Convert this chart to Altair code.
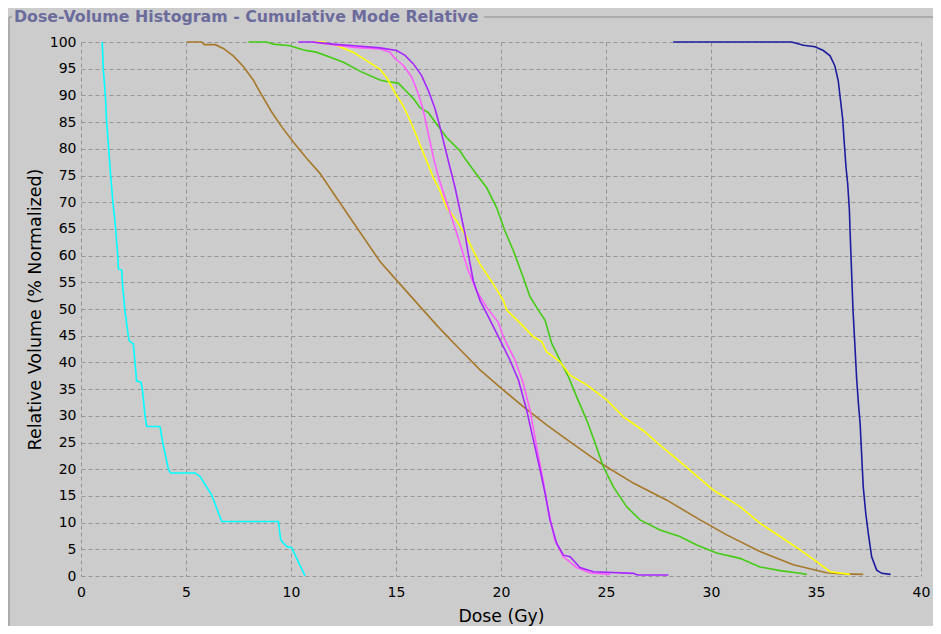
import altair as alt
import pandas as pd

TITLE = "Dose-Volume Histogram - Cumulative Mode Relative"
X_TITLE = "Dose (Gy)"
Y_TITLE = "Relative Volume (% Normalized)"

# ---- curves (dose in Gy, relative volume in %) ----
cyan_dose = [1.01, 1.06, 1.16, 1.22, 1.32, 1.41, 1.52, 1.65, 1.75, 1.78, 1.94, 1.97, 2.08, 2.25, 2.30, 2.49, 2.57,
             2.65, 2.85, 2.92, 3.05, 3.13, 3.76, 3.89, 4.16, 4.27, 5.43, 5.67, 6.22, 6.70, 9.40, 9.50, 9.56, 9.80,
             10.03, 10.67]
cyan_vol = [100, 95, 90, 85, 80, 75, 70, 65, 60, 57.5, 57.3, 55, 50, 45, 44, 43.5, 40,
            36.5, 36.3, 35, 30, 28, 28, 25, 20, 19.3, 19.3, 18.6, 15.2, 10.2, 10.2, 7.0, 6.5, 5.5,
            5.3, 0]

brown_dose = [5.03, 5.75, 5.87, 6.40, 6.78, 7.25, 7.73, 8.20, 8.60, 9.08, 9.56, 10.10, 10.75, 11.38, 11.86, 13.00,
              14.24, 15.00, 16.00, 17.00, 18.00, 19.00, 20.03, 21.06, 22.17, 23.29, 24.71, 26.30, 27.90, 29.48,
              30.75, 32.33, 33.92, 35.50, 36.30, 37.25]
brown_vol = [100, 100, 99.5, 99.5, 98.8, 97.4, 95.4, 92.9, 90.1, 86.9, 84.1, 81.3, 78.2, 75.4, 72.6, 66.0,
             58.9, 55.5, 51.1, 46.7, 42.6, 38.6, 35.1, 31.7, 28.3, 25.1, 21.2, 17.4, 14.2, 10.5,
             7.7, 4.6, 2.1, 0.6, 0.4, 0.3]

green_dose = [7.97, 8.84, 9.16, 9.95, 10.60, 11.20, 11.78, 12.50, 13.30, 14.24, 14.56, 15.11, 15.43, 15.83, 16.14,
              16.54, 16.94, 17.41, 18.05, 18.37, 18.84, 19.32, 19.79, 20.19, 20.59, 21.06, 21.38, 21.78, 22.10,
              22.41, 22.81, 23.21, 23.60, 24.08, 24.48, 24.87, 25.35, 25.98, 26.62, 27.57, 28.52, 29.32, 30.27,
              31.38, 32.33, 33.29, 34.24, 34.56]
green_vol = [100, 100, 99.6, 99.3, 98.5, 98.1, 97.3, 96.2, 94.5, 92.9, 92.6, 92.3, 91.0, 89.4, 87.7,
             86.8, 84.6, 82.1, 79.6, 77.7, 75.2, 72.7, 69.0, 64.6, 60.9, 55.9, 52.3, 49.8, 47.9,
             43.6, 40.4, 37.3, 33.6, 29.2, 24.9, 20.5, 16.7, 13.0, 10.5, 8.6, 7.4, 5.8, 4.3,
             3.3, 1.7, 1.0, 0.5, 0.3]

yellow_dose = [11.00, 11.60, 11.65, 12.10, 13.00, 13.60, 14.24, 14.56, 14.95, 15.35, 15.75, 16.14, 16.46, 16.78,
               17.10, 17.41, 17.89, 18.37, 19.00, 19.63, 20.11, 20.27, 20.90, 21.54, 21.94, 22.17, 22.81, 23.29,
               24.08, 25.03, 25.83, 26.78, 27.57, 28.52, 30.11, 31.38, 32.33, 33.29, 34.24, 35.03, 35.67, 36.62]
yellow_vol = [100, 100, 99.7, 99.5, 98.0, 96.5, 94.9, 93.3, 90.5, 88.0, 84.6, 80.8, 77.7, 74.6,
              72.1, 69.0, 66.5, 63.4, 58.4, 54.7, 51.6, 49.8, 47.4, 44.8, 43.9, 42.0, 40.1, 37.6,
              35.8, 33.0, 29.8, 27.2, 24.5, 21.4, 16.1, 13.0, 9.9, 7.4, 4.9, 2.7, 0.8, 0.3]

pink_dose = [11.00, 12.00, 13.00, 14.24, 14.71, 14.95, 15.35, 15.75, 16.06, 16.30, 16.54, 16.78, 17.02, 17.33,
             17.65, 18.05, 18.44, 18.84, 19.32, 19.87, 20.11, 20.67, 21.06, 21.38, 21.70, 22.00, 22.25, 22.57,
             22.97, 23.60, 24.24, 25.19]
pink_vol = [100, 99.5, 99.0, 98.7, 98.1, 96.9, 95.6, 93.4, 90.3, 87.2, 82.8, 78.4, 74.7, 70.9,
            67.2, 62.2, 57.2, 53.4, 50.3, 47.5, 44.8, 40.4, 36.1, 31.1, 24.2, 18.0, 12.4, 6.7,
            3.6, 1.6, 0.6, 0.3]

purple_dose = [10.35, 11.00, 12.00, 13.00, 14.24, 15.03, 15.43, 15.83, 16.22, 16.54, 16.86, 17.10, 17.33, 17.57,
               17.81, 18.05, 18.29, 18.44, 18.68, 19.00, 19.48, 19.95, 20.43, 20.83, 21.22, 21.54, 21.86, 22.10,
               22.33, 22.65, 22.97, 23.29, 23.76, 24.40, 26.30, 26.50, 27.97]
purple_vol = [100, 100, 99.6, 99.3, 98.9, 98.4, 97.5, 95.9, 93.7, 90.9, 87.5, 84.0, 80.3, 76.5,
              72.8, 68.4, 64.0, 60.3, 55.3, 51.6, 47.9, 44.2, 40.4, 36.7, 31.1, 25.5, 19.9, 15.5,
              10.5, 6.1, 3.9, 3.6, 1.6, 0.8, 0.5, 0.2, 0.2]

navy_dose = [28.20, 33.84, 34.40, 34.95, 35.35, 35.67, 35.90, 36.06, 36.17, 36.27, 36.35, 36.43, 36.51, 36.59,
             36.62, 36.76, 36.94, 37.02, 37.10, 37.17, 37.25, 37.37, 37.49, 37.65, 37.89, 38.13, 38.55]
navy_vol = [100, 100, 99.4, 99.1, 98.4, 97.4, 95.5, 92.7, 89.0, 85.6, 80.9, 76.5, 73.4, 68.5,
            64.8, 50.0, 36.7, 32.3, 28.6, 23.0, 16.7, 11.7, 8.0, 3.6, 1.1, 0.5, 0.3]

series = [
    ("cyan", cyan_dose, cyan_vol, "#00ffff"),
    ("brown", brown_dose, brown_vol, "#a8782a"),
    ("green", green_dose, green_vol, "#44cc14"),
    ("yellow", yellow_dose, yellow_vol, "#ffff00"),
    ("pink", pink_dose, pink_vol, "#ff5cff"),
    ("purple", purple_dose, purple_vol, "#a626ff"),
    ("navy", navy_dose, navy_vol, "#1c1ca0"),
]

rows = []
for k, (name, d, v, _) in enumerate(series):
    for i, (dd, vv) in enumerate(zip(d, v)):
        rows.append({"roi": name, "dose": dd, "vol": vv, "idx": i, "z": k})
df = pd.DataFrame(rows)

names = [s[0] for s in series]
colors = [s[3] for s in series]

W, H = 840, 534
BG = "#cccccc"
FONT = "DejaVu Sans"

x_enc = alt.X("dose:Q", scale=alt.Scale(domain=[0, 40], nice=False),
              axis=alt.Axis(title=X_TITLE, values=list(range(0, 41, 5)), titleX=W / 2, titleY=40,
                            titleBaseline="middle", titleFontSize=17.3, titleFontWeight="normal",
                            labelPadding=9, labelFlush=False))
y_enc = alt.Y("vol:Q", scale=alt.Scale(domain=[0, 100], nice=False),
              axis=alt.Axis(title=Y_TITLE, values=list(range(0, 101, 5)), titleX=-46, titleY=H / 2,
                            titleAngle=270, titleAlign="center", titleBaseline="middle",
                            titleFontSize=17.5, titleFontWeight="normal", labelPadding=5,
                            labelFlush=False))

lines = alt.Chart(df).mark_line(strokeWidth=1.6, interpolate="linear").encode(
    x=x_enc, y=y_enc,
    color=alt.Color("roi:N", scale=alt.Scale(domain=names, range=colors), legend=None),
    detail="roi:N",
    order=alt.Order("idx:Q"),
)

one = pd.DataFrame({"t": [TITLE]})
title = alt.Chart(one).mark_text(align="left", baseline="middle", font=FONT, fontSize=15.8,
                                 fontWeight="bold", color="#6b6b9c").encode(
    text="t:N", x=alt.value(-67), y=alt.value(-25))

box_color = "#8c8c8c"
box_top = alt.Chart(one).mark_rule(color=box_color, strokeWidth=1).encode(
    x=alt.value(403), x2=alt.value(860), y=alt.value(-25))
box_top_l = alt.Chart(one).mark_rule(color=box_color, strokeWidth=1).encode(
    x=alt.value(-72), x2=alt.value(-69), y=alt.value(-25))
box_left = alt.Chart(one).mark_rule(color=box_color, strokeWidth=1).encode(
    x=alt.value(-72), y=alt.value(-25), y2=alt.value(600))

chart = alt.layer(box_top, box_top_l, box_left, lines, title).properties(
    width=W, height=H,
    background=BG,
    padding={"left": 73, "top": 34, "right": 12, "bottom": 50},
    autosize=alt.AutoSizeParams(type="none"),
).configure_view(stroke=None, fill=BG).configure_axis(
    grid=True, gridColor="#969696", gridDash=[4, 3], gridWidth=1, gridOpacity=1,
    domain=False, ticks=False,
    labelFont=FONT, labelFontSize=14, labelColor="#000000",
    titleFont=FONT, titleColor="#000000",
)

chart.save("out.html", embed_options={"renderer": "svg", "actions": False})
